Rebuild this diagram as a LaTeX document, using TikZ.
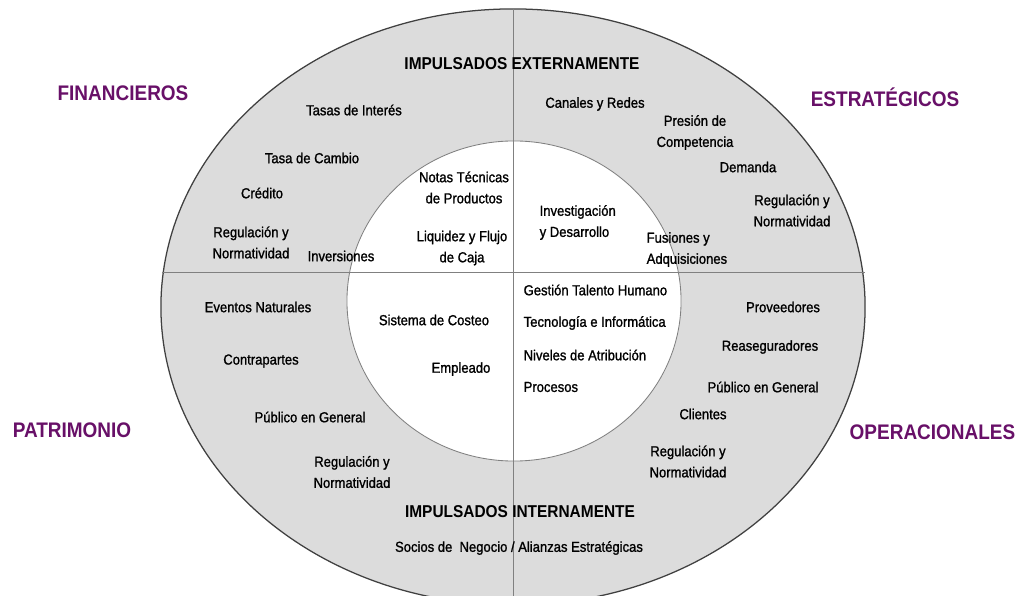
\documentclass[tikz,border=0pt]{standalone}
\usepackage{fontspec}
\setmainfont{Liberation Sans}[FakeStretch=0.9]
\newfontfamily\itmfont{Liberation Sans}[FakeStretch=0.9, FakeBold=1.2]
\usetikzlibrary{positioning}
\definecolor{ringgray}{RGB}{220,220,220}
\definecolor{catpurple}{RGB}{104,16,104}
\definecolor{linegray}{RGB}{128,128,128}

\begin{document}
\begin{tikzpicture}[x=0.025cm, y=-0.025cm,
  itm/.style={inner sep=1pt, align=center, font=\itmfont\fontsize{10.3}{15}\selectfont},
  hdr/.style={inner sep=1pt, font=\fontsize{12.2}{14}\selectfont\bfseries},
  cat/.style={inner sep=1pt, text=catpurple, font=\fontsize{15}{18}\selectfont\bfseries}]
\useasboundingbox (0,0) rectangle (1018,596);
\clip (0,0) rectangle (1018,596);
% rings
\coordinate (c) at (513,307);
\coordinate (ci) at (514,301);
\filldraw[fill=ringgray, draw=black!75, line width=0.9pt] (c) ellipse [x radius=8.8cm, y radius=7.45cm];
\filldraw[fill=white, draw=linegray, line width=0.6pt] (ci) ellipse [x radius=4.175cm, y radius=4cm];
\coordinate (vt) at (513,9); \coordinate (vb) at (513,596);
\coordinate (hl) at (162,272); \coordinate (hr) at (865,272);
\draw[linegray, line width=0.6pt] (vt) -- (vb) (hl) -- (hr);

% categories
\node[cat] (fin) at (123,93) {FINANCIEROS};
\node[cat] (est) at (885,97) {ESTRATÉGICOS};
\node[cat] (pat) at (72,430) {PATRIMONIO};
\node[cat, anchor=east] (ope) at (1017,432) {OPERACIONALES};
\node[hdr] (ext) at (522,64) {IMPULSADOS EXTERNAMENTE};
\node[hdr] (int) at (520,512) {IMPULSADOS INTERNAMENTE};

% financieros
\node[itm] (tint) at (354,110) {Tasas de Interés};
\node[itm] (tcam) at (312,158) {Tasa de Cambio};
\node[itm] (cred) at (262,193) {Crédito};
\node[itm] (regf) at (251,242.5) {Regulación y\\Normatividad};
\node[itm] (inv) at (341,256) {Inversiones};
\node[itm] (nota) at (464,187.5) {Notas Técnicas\\de Productos};
\node[itm] (liq) at (462,248) {Liquidez y Flujo\\de Caja};

% estrategicos
\node[itm] (can) at (595,104) {Canales y Redes};
\node[itm] (pres) at (695,132.5) {Presión de\\Competencia};
\node[itm] (dem) at (748,167) {Demanda};
\node[itm] (rege) at (792,210.5) {Regulación y\\Normatividad};
\node[itm, align=left, anchor=west] (ide) at (538,222.5) {Investigación\\y Desarrollo};
\node[itm, align=left, anchor=west] (fus) at (645,249.5) {Fusiones y\\Adquisiciones};

% patrimonio
\node[itm] (evn) at (258,307) {Eventos Naturales};
\node[itm] (cpt) at (261,361) {Contrapartes};
\node[itm] (pubp) at (310,417) {Público en General};
\node[itm] (regp) at (352,472) {Regulación y\\Normatividad};
\node[itm] (cos) at (434,320) {Sistema de Costeo};
\node[itm] (emp) at (461,369) {Empleado};

% operacionales
\foreach \n/\y/\t in {gth/290/Gestión Talento Humano, tec/323/Tecnología e Informática,
  niv/355/Niveles de Atribución, pro/387/Procesos}
  {\node[itm, anchor=west] (\n) at (522,\y) {\t};}
\node[itm] (prov) at (783,307) {Proveedores};
\node[itm] (rea) at (770,347) {Reaseguradores};
\node[itm] (pubo) at (763,387) {Público en General};
\node[itm] (cli) at (703,414) {Clientes};
\node[itm] (rego) at (688,461.5) {Regulación y\\Normatividad};

\node[itm] (soc) at (519,548) {Socios de\ \ Negocio / Alianzas Estratégicas};
\end{tikzpicture}
\end{document}
